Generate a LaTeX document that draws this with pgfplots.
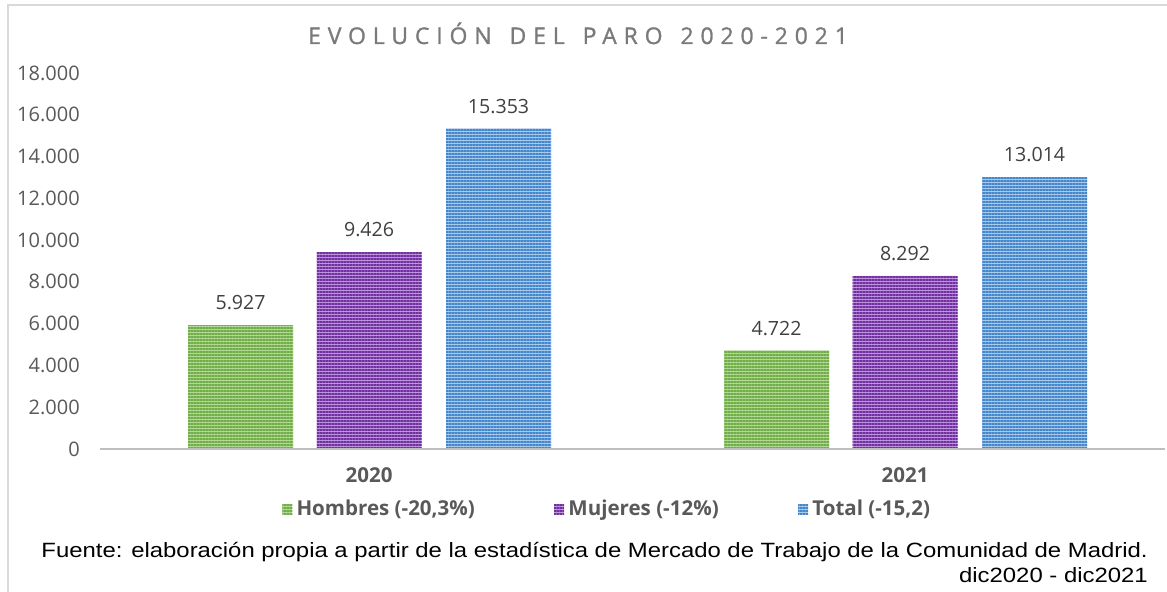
\documentclass[border=0pt]{standalone}
\usepackage{fontspec}
\setmainfont{Open Sans}
\newfontfamily\titlefont[LetterSpace=30,WordSpace=1.4,FakeBold=1.2]{Open Sans}
\newfontfamily\arialfont{Liberation Sans}
\usepackage{pgfplots}
\pgfplotsset{compat=1.18}
\usetikzlibrary{patterns.meta}
\definecolor{framegray}{RGB}{217,217,217}
\definecolor{titlegray}{RGB}{122,122,122}
\definecolor{ticgray}{RGB}{89,89,89}
\definecolor{lblgray}{RGB}{64,64,64}
\definecolor{axisgray}{RGB}{191,191,191}
\definecolor{hgreen}{RGB}{112,173,71}
\definecolor{hgreenl}{RGB}{178,216,152}
\definecolor{mpurple}{RGB}{112,48,160}
\definecolor{mpurplel}{RGB}{190,148,220}
\definecolor{tblue}{RGB}{68,134,204}
\definecolor{tbluel}{RGB}{170,202,236}
% pixel (from top-left) to pt
\newcommand\PX[2]{({#1*0.75pt},{(592-#2)*0.75pt})}
\begin{document}
\begin{tikzpicture}
\path[use as bounding box] \PX{0}{592} rectangle \PX{1167}{0};
\draw[framegray, line width=1.5pt] \PX{8}{592} -- \PX{8}{5} -- \PX{1167}{5};
\node[font=\titlefont\fontsize{17.2}{20}\selectfont, text=titlegray, anchor=base] at \PX{578}{44} {EVOLUCIÓN DEL PARO 2020-2021};
\begin{axis}[
  at={(75pt,107.25pt)}, anchor=south west,
  scale only axis, width=798.75pt, height=282pt,
  xmin=-0.502, xmax=1.485, ymin=0, ymax=18000,
  axis line style={draw=none},
  major tick length=0pt, tick style={draw=none},
  ytick={0,2000,...,18000}, scaled y ticks=false,
  /pgf/number format/1000 sep={.},
  /pgf/number format/use comma,
  /pgf/number format/assume math mode=true,
  yticklabel style={font=\fontsize{15}{18}\selectfont, text=ticgray, inner sep=0pt, anchor=east},
  yticklabel shift=15pt,
  xtick={0,1}, xticklabels={2020,2021},
  xticklabel style={font=\bfseries\fontsize{15.4}{18}\selectfont, text=ticgray, inner sep=0pt, anchor=north},
  xticklabel shift=13.5pt,
  ybar, bar width=0.196,
  nodes near coords,
  every node near coord/.append style={font=\fontsize{14.7}{18}\selectfont, text=lblgray, inner sep=0pt, anchor=south, yshift=11pt},
  legend columns=3,
  legend style={at={(0.1709,-0.1596)}, anchor=west, draw=none, fill=none, inner sep=0pt,
    font=\bfseries\fontsize{15.4}{18}\selectfont, text=ticgray,
    /tikz/every odd column/.append style={column sep=1.2pt},
    /tikz/every even column/.append style={column sep=57.5pt}},
  legend image code/.code={\fill[#1] (0pt,-3.75pt) rectangle (7.5pt,3.75pt);},
  clip=false,
]
\addplot[bar shift=-0.2397, draw=none, fill=hgreenl, postaction={pattern={Lines[angle=0,distance=2.25pt,line width=0.8pt]}, pattern color=hgreen}] coordinates {(0,5927) (1,4722)};
\addplot[bar shift=0, draw=none, fill=mpurplel, postaction={pattern={Lines[angle=0,distance=2.25pt,line width=0.9pt]}, pattern color=mpurple}] coordinates {(0,9426) (1,8292)};
\addplot[bar shift=0.2416, draw=none, fill=tbluel, postaction={pattern={Lines[angle=0,distance=2.25pt,line width=0.9pt]}, pattern color=tblue}] coordinates {(0,15353) (1,13014)};
\legend{{Hombres (-20,3\%)}, {Mujeres (-12\%)}, {Total (-15,2)}}
\draw[axisgray, line width=2pt] (rel axis cs:0,0) -- (rel axis cs:1,0);
\end{axis}
\node[font=\arialfont\fontsize{15.5}{19}\selectfont, anchor=base east, inner sep=0pt] at \PX{1148}{558} {\scalebox{1.156}[1]{Fuente: elaboración propia a partir de la estadística de Mercado de Trabajo de la Comunidad de Madrid.}};
\node[font=\arialfont\fontsize{15.5}{19}\selectfont, anchor=base east, inner sep=0pt] at \PX{1148}{583} {\scalebox{1.156}[1]{dic2020 - dic2021}};
\end{tikzpicture}
\end{document}
